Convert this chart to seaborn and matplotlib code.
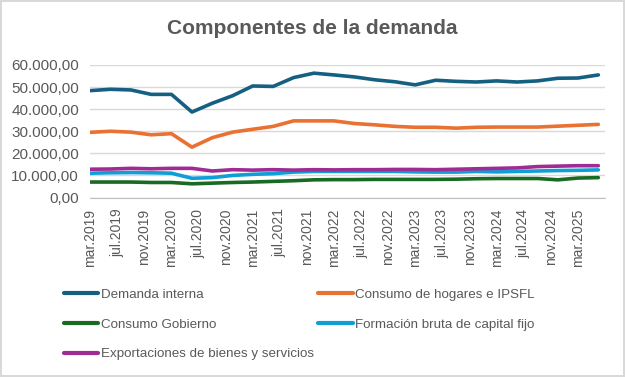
import matplotlib
matplotlib.use("Agg")
import matplotlib.pyplot as plt
import matplotlib.ticker as mticker
import matplotlib.dates as mdates
from matplotlib.lines import Line2D
import seaborn as sns
import pandas as pd

# quarterly data, mar.2019 .. jun.2025
quarters = pd.date_range("2019-03-01", "2025-06-01", freq="3MS")

demanda_interna = [48400, 49000, 48700, 46700, 46700, 38700, 42700, 46100, 50500, 50300,
                   54300, 56300, 55500, 54600, 53300, 52400, 51000, 53100, 52600, 52300,
                   52800, 52300, 52800, 54000, 54100, 55500]
consumo_hogares = [29500, 30000, 29600, 28400, 28900, 22800, 27100, 29600, 30900, 32200,
                   34700, 34700, 34700, 33500, 32900, 32200, 31800, 31800, 31400, 31800,
                   31900, 31900, 31900, 32300, 32700, 33100]
consumo_gobierno = [7000, 7000, 7000, 6800, 6800, 6200, 6500, 6800, 7000, 7300,
                    7600, 8000, 8100, 8100, 8200, 8200, 8200, 8200, 8300, 8500,
                    8600, 8600, 8600, 8000, 8800, 9000]
fbkf = [11000, 11200, 11300, 11200, 11000, 8700, 9000, 10000, 10500, 10800,
        11500, 11800, 11800, 11800, 11800, 11800, 11600, 11500, 11500, 11800,
        11600, 11800, 12000, 12200, 12300, 12500]
exportaciones = [12800, 12900, 13200, 13000, 13200, 13200, 12000, 12600, 12400, 12600,
                 12400, 12600, 12500, 12600, 12600, 12700, 12700, 12600, 12800, 13000,
                 13200, 13400, 14000, 14200, 14400, 14400]

series_names = ["Demanda interna", "Consumo de hogares e IPSFL", "Consumo Gobierno",
                "Formación bruta de capital fijo", "Exportaciones de bienes y servicios"]
series_values = [demanda_interna, consumo_hogares, consumo_gobierno, fbkf, exportaciones]
colors = ["#156082", "#E97132", "#196B24", "#0F9ED5", "#A02B93"]

tick_dates = pd.date_range("2019-03-01", "2025-07-01", freq="4MS")
tick_labels = ["mar.2019", "jul.2019", "nov.2019", "mar.2020", "jul.2020", "nov.2020",
               "mar.2021", "jul.2021", "nov.2021", "mar.2022", "jul.2022", "nov.2022",
               "mar.2023", "jul.2023", "nov.2023", "mar.2024", "jul.2024", "nov.2024",
               "mar.2025", ""]

rows = []
for name, vals in zip(series_names, series_values):
    for d, v in zip(quarters, vals):
        rows.append({"fecha": d, "valor": v, "serie": name})
df = pd.DataFrame(rows)

sns.set_style("white")
plt.rcParams["font.family"] = ["Liberation Sans", "DejaVu Sans"]
grey = "#595959"

fig = plt.figure(figsize=(6.25, 3.77), dpi=100)
fig.patch.set_edgecolor("#D9D9D9")
fig.patch.set_linewidth(1.5)
ax = fig.add_axes([90 / 625, 1 - 197.5 / 377, 515 / 625, 132.5 / 377])

sns.lineplot(data=df, x="fecha", y="valor", hue="serie", hue_order=series_names,
             palette=colors, linewidth=2.6, legend=False, ax=ax)

ax.set_xlim(tick_dates[0], tick_dates[-1])
ax.set_ylim(0, 60000)
ax.yaxis.set_major_locator(mticker.MultipleLocator(10000))
ax.yaxis.set_major_formatter(mticker.FuncFormatter(
    lambda v, p: f"{v:,.2f}".replace(",", "X").replace(".", ",").replace("X", ".")))
ax.set_xticks(mdates.date2num(tick_dates))
ax.set_xticklabels(tick_labels, rotation=90, fontsize=10, color=grey)
ax.tick_params(axis="x", length=4, color="#BFBFBF", pad=4)
ax.tick_params(axis="y", length=0, labelsize=11, labelcolor=grey, pad=8)
ax.grid(axis="y", color="#D9D9D9", linewidth=1)
ax.set_axisbelow(True)
for s in ["top", "right", "left"]:
    ax.spines[s].set_visible(False)
ax.spines["bottom"].set_color("#BFBFBF")
ax.set_xlabel("")
ax.set_ylabel("")

fig.text(0.5, 1 - 28 / 377, "Componentes de la demanda", ha="center", va="center",
         fontsize=15, fontweight="bold", color=grey)

handles = [Line2D([], [], color=c, linewidth=3) for c in colors]
order = [0, 2, 4, 1, 3]
fig.legend([handles[i] for i in order], [series_names[i] for i in order],
           loc="upper left", bbox_to_anchor=(57 / 625, 1 - 282 / 377), ncol=2,
           frameon=False, borderpad=0, handlelength=2.6, handletextpad=0.2,
           columnspacing=0.3, labelspacing=1.3, fontsize=9.6, labelcolor=grey)

fig.savefig("out.png", dpi=100)
